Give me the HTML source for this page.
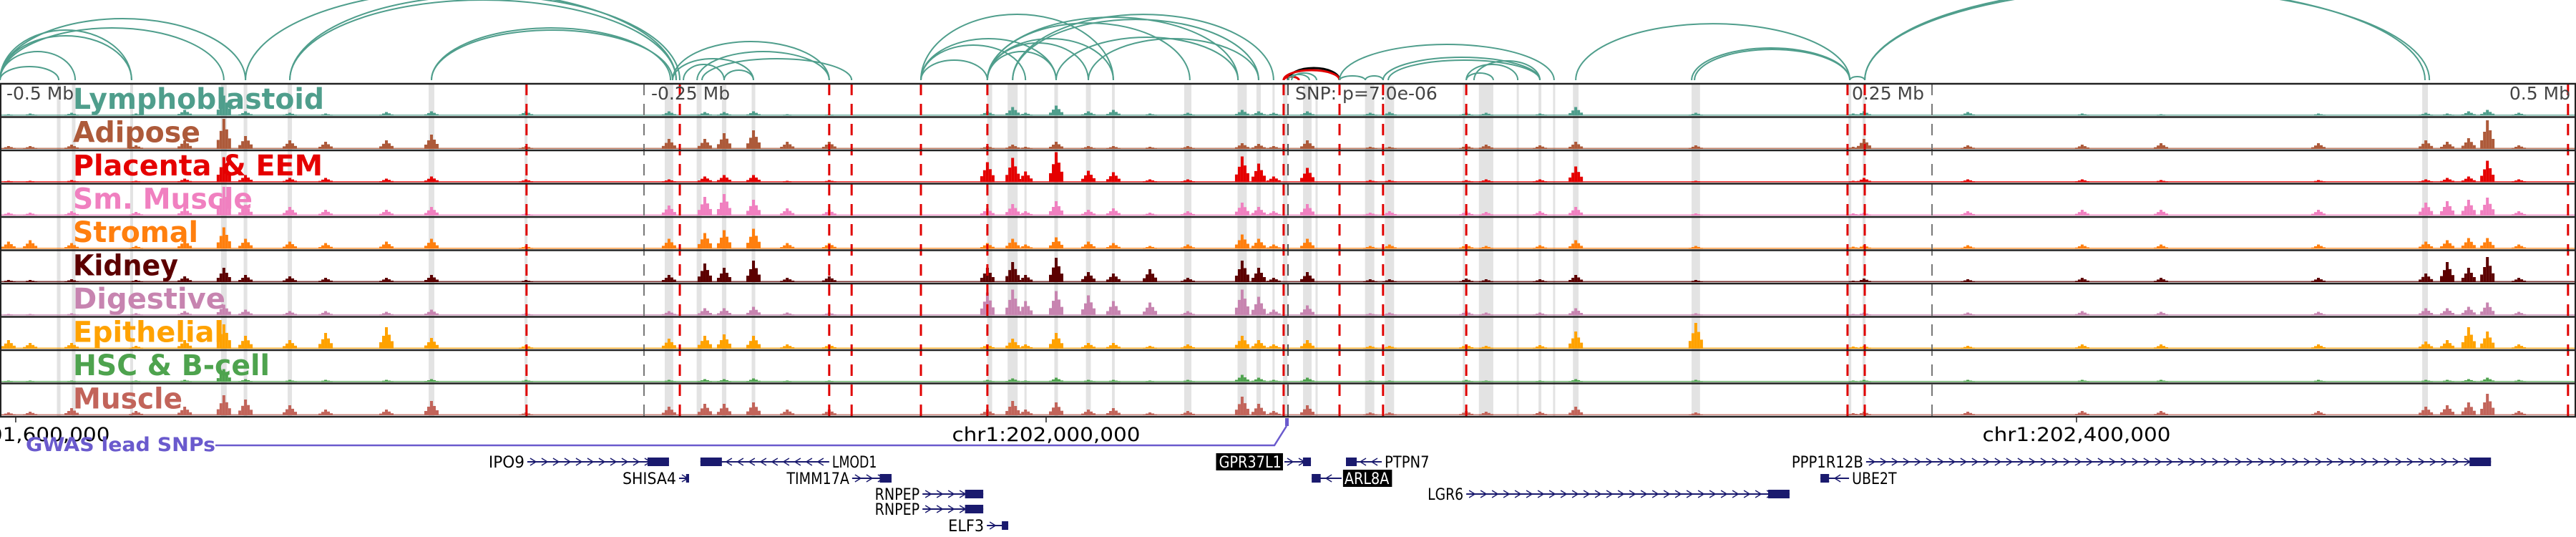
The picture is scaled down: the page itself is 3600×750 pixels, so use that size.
<!DOCTYPE html>
<html><head><meta charset="utf-8"><style>
html,body{margin:0;padding:0;background:#fff;}
svg{display:block;}
text{font-family:"DejaVu Sans","Liberation Sans",sans-serif;}
</style></head><body>
<svg id="chart" width="3600" height="750" viewBox="0 0 3600 750" xmlns="http://www.w3.org/2000/svg">
<g id="arcs"></g>
<g id="bands"></g>
<g id="tracks"></g>
<g id="vlines"></g>
<g id="frames"></g>
<g id="labels"></g>
<g id="axis"></g>
<g id="genes"></g>
</svg>
<script>
// positions are kb from window start (chr1:201,593,889); window = 1000 kb
const tickKb = [6.1, 406.1, 806.1];
const tickLabels = ["chr1:201,600,000","chr1:202,000,000","chr1:202,400,000"];
const arcStart = [0,0,0,0,0,0,95.3,112.5,112.5,167.5,167.5,261.1,261.1,270.6,272.5,265.3,281.1,357.5,357.5,357.5,357.5,383.3,383.3,383.3,383.3,383.3,393.1,393.1,410,422.5,500,498.3,498.3,500,501.4,520,520,530,536.9,538.9,569.2,569.2,572.2,611.7,656.7,657.8,718.1,723.9,723.9];
const arcEnd   = [22.8,29.2,51.1,51.1,86.9,95.3,262.5,263.9,262.5,260.3,261.1,292.5,321.9,321.9,330.6,281.1,292.5,383.3,398.1,410,432.2,410,422.5,432.2,461.9,480.6,488.6,494.4,480.6,488.6,520,520,504.2,508.3,511.1,603.3,530,536.9,597.8,597.8,579.7,589.2,597.8,718.1,718.1,718.1,723.9,941.4,943.1];
const arcHeights = [19,40,62,70,73,86,125,118,112,73,70,30,54,40,30,22,14,28,49,58,92,40,52,58,80,88,85,92,60,58,17,14,5,8,10,50,6,6,32,28,10,22,27,79,45,43,5,130,128];
const arcKind = [0,0,0,0,0,0,0,0,0,0,0,0,0,0,0,0,0,0,0,0,0,0,0,0,0,0,0,0,0,0,1,2,2,0,0,0,0,0,0,0,0,0,0,0,0,0,0,0,0];
const redLineKb = [204.4,263.9,321.9,330.6,357.5,383.3,498.3,520.0,536.9,569.2,717.2,723.9,996.9];
const bandKb = [22.8,28.6,51.1,86.9,95.3,112.5,167.5,204.2,259.7,271.4,281.1,292.5,384.2,393.1,398.1,410,422.5,432.2,461.1,482.2,488.6,494.4,498.9,507.5,511.1,531.7,539.4,568.3,576.9,589.2,597.8,603.3,611.7,658.3,718.1,723.6,941.4];
const bandWidthKb = [1.4,1.4,1.1,2.2,1.4,1.7,2.2,1.1,3.3,1.9,1.7,1.4,1.9,3.9,0.8,1.4,1.9,1.1,2.8,3.6,1.7,0.8,1.7,3.3,0.8,3.6,3.6,0.8,5.6,0.8,1.1,0.8,2.2,3.3,1.1,1.1,2.2];
const peakKb = [3.3,11.7,27.8,52.8,71.7,86.9,95.3,112.5,126.4,150,167.5,204.2,259.7,273.6,281.1,292.5,305.6,321.9,383.3,393.1,398.1,410,422.5,432.2,446.4,461.1,482.2,488.6,494.4,507.5,531.9,539.4,569.2,576.9,597.8,611.7,658.3,719.4,723.6,763.9,808.3,838.9,900,941.7,950,958.3,965.6,977.8];
const trackNames = ["Lymphoblastoid","Adipose","Placenta & EEM","Sm. Muscle","Stromal","Kidney","Digestive","Epithelial","HSC & B-cell","Muscle"];
const lympho   = [2,3,4,3,8,28,6,4,3,5,6,6,6,5,5,6,2,2,6,12,4,14,6,8,3,4,8,6,4,6,4,5,4,4,3,12,4,3,6,5,3,2,3,4,3,6,8,4];
const adipose  = [4,4,6,5,12,42,18,12,10,12,20,4,14,14,22,26,10,10,4,6,3,10,4,4,3,4,8,7,4,12,3,3,5,6,5,10,5,3,14,5,6,8,8,12,10,15,40,5];
const placenta = [2,2,3,2,5,35,10,6,6,5,8,4,4,8,10,10,2,3,28,34,15,42,16,14,4,4,36,26,8,20,3,3,3,4,4,22,2,2,6,4,4,3,3,4,6,8,30,4];
const smMuscle = [4,4,6,5,10,40,15,12,8,8,12,3,14,26,30,22,10,8,10,16,6,20,8,10,4,6,18,12,6,16,4,6,6,5,6,12,3,3,4,6,8,8,8,18,20,22,25,6];
const stromal  = [10,12,8,4,12,30,14,10,8,10,14,4,14,22,26,28,8,8,8,14,6,16,10,8,4,6,20,14,6,14,4,6,6,4,5,12,4,3,5,5,6,6,6,10,12,15,15,6];
const kidney   = [3,3,4,3,8,20,10,8,6,6,10,3,10,26,20,30,6,8,20,28,10,34,14,12,18,6,30,20,6,14,4,4,5,4,4,10,3,2,5,4,6,6,6,12,28,20,35,6];
const digestive= [2,2,3,3,6,15,8,6,6,5,8,3,6,10,10,12,4,4,32,36,20,34,28,20,18,6,36,26,8,14,3,4,6,4,4,10,3,2,4,4,6,5,5,10,10,12,18,5];
const epithel  = [12,8,8,4,12,34,18,12,22,30,15,5,14,18,20,18,6,6,6,14,6,22,8,8,4,6,18,12,6,12,4,4,6,4,5,24,36,3,4,4,6,6,6,10,12,30,24,6];
const hsc      = [2,2,2,2,3,18,4,3,3,3,4,3,3,4,4,5,2,2,3,5,2,6,3,3,2,3,10,6,3,6,2,2,3,2,2,4,3,2,3,3,3,3,3,3,3,4,6,3];
const muscle   = [4,5,10,6,12,28,22,14,8,8,20,4,12,16,16,18,8,8,8,20,8,18,8,10,4,6,26,16,6,14,4,4,6,5,5,12,4,3,5,5,6,6,6,12,14,18,30,6];
const geneNames = ["IPO9","SHISA4","LMOD1","TIMM17A","RNPEP","RNPEP","ELF3","GPR37L1","PTPN7","ARL8A","LGR6","PPP1R12B","UBE2T"];
const geneStartKb = [204.7,263.6,271.9,330.8,358.1,358.1,383.1,498.6,522.5,509.2,569.2,724.4,706.7];
const geneEndKb   = [259.7,267.5,321.9,346.1,381.7,381.7,391.4,508.9,536.4,520.8,694.7,967.0,717.8];
const geneRow = [0,1,0,1,2,3,4,0,0,1,2,0,1];
const geneStrand = [1,1,-1,1,1,1,1,1,-1,-1,1,1,-1];
const geneLabelSide = [-1,-1,1,-1,-1,-1,-1,-1,1,1,-1,-1,1];
const geneHighlight = [0,0,0,0,0,0,0,1,0,1,0,0,0];
const snpKb = 500;

const NS="http://www.w3.org/2000/svg";
const X = kb => kb*3.6;
const colors=["#4f9e8c","#ad5a3a","#e50000","#f080c0","#ff7f0e","#5c0000","#c784b0","#ffa200","#4ea34e","#c2645a"];
const series=[lympho,adipose,placenta,smMuscle,stromal,kidney,digestive,epithel,hsc,muscle];
const labelW=[351,178,349,251,175,147,213,211,275,153];
const T0=117, TH=46.5, NT=10, BASE=112;
function mk(tag,attrs,parent){const e=document.createElementNS(NS,tag);for(const k in attrs)e.setAttribute(k,attrs[k]);parent.appendChild(e);return e;}
const gA=document.getElementById('arcs'),gB=document.getElementById('bands'),gT=document.getElementById('tracks'),gV=document.getElementById('vlines'),gF=document.getElementById('frames'),gL=document.getElementById('labels'),gX=document.getElementById('axis'),gG=document.getElementById('genes');

// arcs (half ellipses)
arcStart.forEach((s,i)=>{
  const x1=X(s),x2=X(arcEnd[i]),h=arcHeights[i];
  const rx=(x2-x1)/2;
  const c=arcKind[i]===1?"#000":arcKind[i]===2?"#e00000":"#4f9e8c";
  const p=mk('path',{d:`M${x1},${BASE} A${rx},${h} 0 0 1 ${x2},${BASE}`,fill:"none",stroke:c,"stroke-width":arcKind[i]?3:2},gA);
  
  
});
// bands
const TB=T0+NT*TH;
bandKb.forEach((b,i)=>{
  const w=Math.max(3,X(bandWidthKb[i]));
  const r=mk('rect',{x:X(b)-w/2,y:T0,width:w,height:TB-T0,fill:"#e3e3e3"},gB);
  
  
});
// tracks
const shape=[0.3,0.6,1,0.65,0.35];
series.forEach((vals,t)=>{
  const g=mk('g',{},gT);
  
  
  const bot=T0+(t+1)*TH-2;
  mk('rect',{x:0,y:bot-1.5,width:3600,height:1.5,fill:colors[t],opacity:0.8},g);
  vals.forEach((v,i)=>{
    const cx=X(peakKb[i]);
    shape.forEach((f,j)=>{
      const h=v*f; if(h<1)return;
      const r=mk('rect',{x:cx+(j-2)*4-2,y:bot-h,width:4,height:h,fill:colors[t]},g);
      
      
    });
  });
});
// vertical lines
redLineKb.forEach(k=>{
  const l=mk('line',{x1:X(k),x2:X(k),y1:T0,y2:TB,stroke:"#e00000","stroke-width":3,"stroke-dasharray":"16,12"},gV);
  
  
});
[250,750].forEach(k=>{mk('line',{x1:X(k),x2:X(k),y1:T0,y2:TB,stroke:"#777","stroke-width":2,"stroke-dasharray":"16,12"},gV);});
mk('line',{x1:X(snpKb),x2:X(snpKb),y1:T0,y2:TB,stroke:"#555","stroke-width":2,"stroke-dasharray":"16,12"},gV);
// frames
for(let t=0;t<=NT;t++){mk('line',{x1:0,x2:3600,y1:T0+t*TH,y2:T0+t*TH,stroke:"#222","stroke-width":2.5},gF);}
mk('line',{x1:1,x2:1,y1:T0,y2:TB,stroke:"#222","stroke-width":2},gF);
mk('line',{x1:3599,x2:3599,y1:T0,y2:TB,stroke:"#222","stroke-width":2},gF);
// labels
trackNames.forEach((n,t)=>{
  const tx=mk('text',{x:102,y:T0+t*TH+35,"font-size":40,"font-weight":"bold",fill:colors[t],textLength:labelW[t],lengthAdjust:"spacingAndGlyphs"},gL);
  tx.textContent=n;
  
  
});
[["-0.5 Mb",9,"start"],["-0.25 Mb",910,"start"],["SNP: p=7.0e-06",1810,"start"],["0.25 Mb",2689,"end"],["0.5 Mb",3592,"end"]].forEach(a=>{
  const tx=mk('text',{x:a[1],y:139,"font-size":25,fill:"#444","text-anchor":a[2]},gL);
  tx.textContent=a[0];
  
  
});
// axis
tickKb.forEach((k,i)=>{
  mk('line',{x1:X(k),x2:X(k),y1:TB,y2:TB+8,stroke:"#222","stroke-width":1.5},gX);
  const tx=mk('text',{x:X(k),y:616,"font-size":27,fill:"#000","text-anchor":"middle",textLength:263,lengthAdjust:"spacingAndGlyphs"},gX);
  tx.textContent=tickLabels[i];
  
  
});
// GWAS track
const gw=mk('text',{x:36,y:630,"font-size":27,"font-weight":"bold",fill:"#6a5acd",textLength:265,lengthAdjust:"spacingAndGlyphs"},gX);
gw.textContent="GWAS lead SNPs";


mk('polyline',{points:`301,622 ${X(snpKb)-19},622 ${X(snpKb)-2},595`,fill:"none",stroke:"#6a5acd","stroke-width":2.5},gX);
const sn=mk('rect',{x:X(snpKb)-4,y:584,width:5,height:11,fill:"#6a5acd"},gX);


// genes
const rowY=[645,668,690,711,734];
geneNames.forEach((n,i)=>{
  const g=mk('g',{},gG);
  
  
  const x1=X(geneStartKb[i]),x2=X(geneEndKb[i]),y=rowY[geneRow[i]];
  mk('line',{x1,x2,y1:y,y2:y,stroke:"#1a1a6e","stroke-width":2},g);
  for(let x=x1+8;x<x2-6;x+=16){
    const d=geneStrand[i]*4;
    mk('polyline',{points:`${x-d},${y-5} ${x+d},${y} ${x-d},${y+5}`,fill:"none",stroke:"#1a1a6e","stroke-width":1.5},g);
  }
  const ew=Math.min(30,(x2-x1)*0.3);
  const ex=geneStrand[i]>0?x2-ew:x1;
  mk('rect',{x:ex,y:y-6,width:ew,height:12,fill:"#1a1a6e"},g);
  const fs=22, lw=n.length*12.5;
  const lx=geneLabelSide[i]<0?x1-4:x2+4;
  if(geneHighlight[i]){
    const bx=geneLabelSide[i]<0?lx-lw-4:lx-2;
    mk('rect',{x:bx,y:y-12,width:lw+6,height:24,fill:"#000"},g);
  }
  const tx=mk('text',{x:lx,y:y+8,"font-size":fs,fill:geneHighlight[i]?"#fff":"#000","text-anchor":geneLabelSide[i]<0?"end":"start",textLength:lw,lengthAdjust:"spacingAndGlyphs"},g);
  tx.textContent=n;
});
</script>
</body></html>
